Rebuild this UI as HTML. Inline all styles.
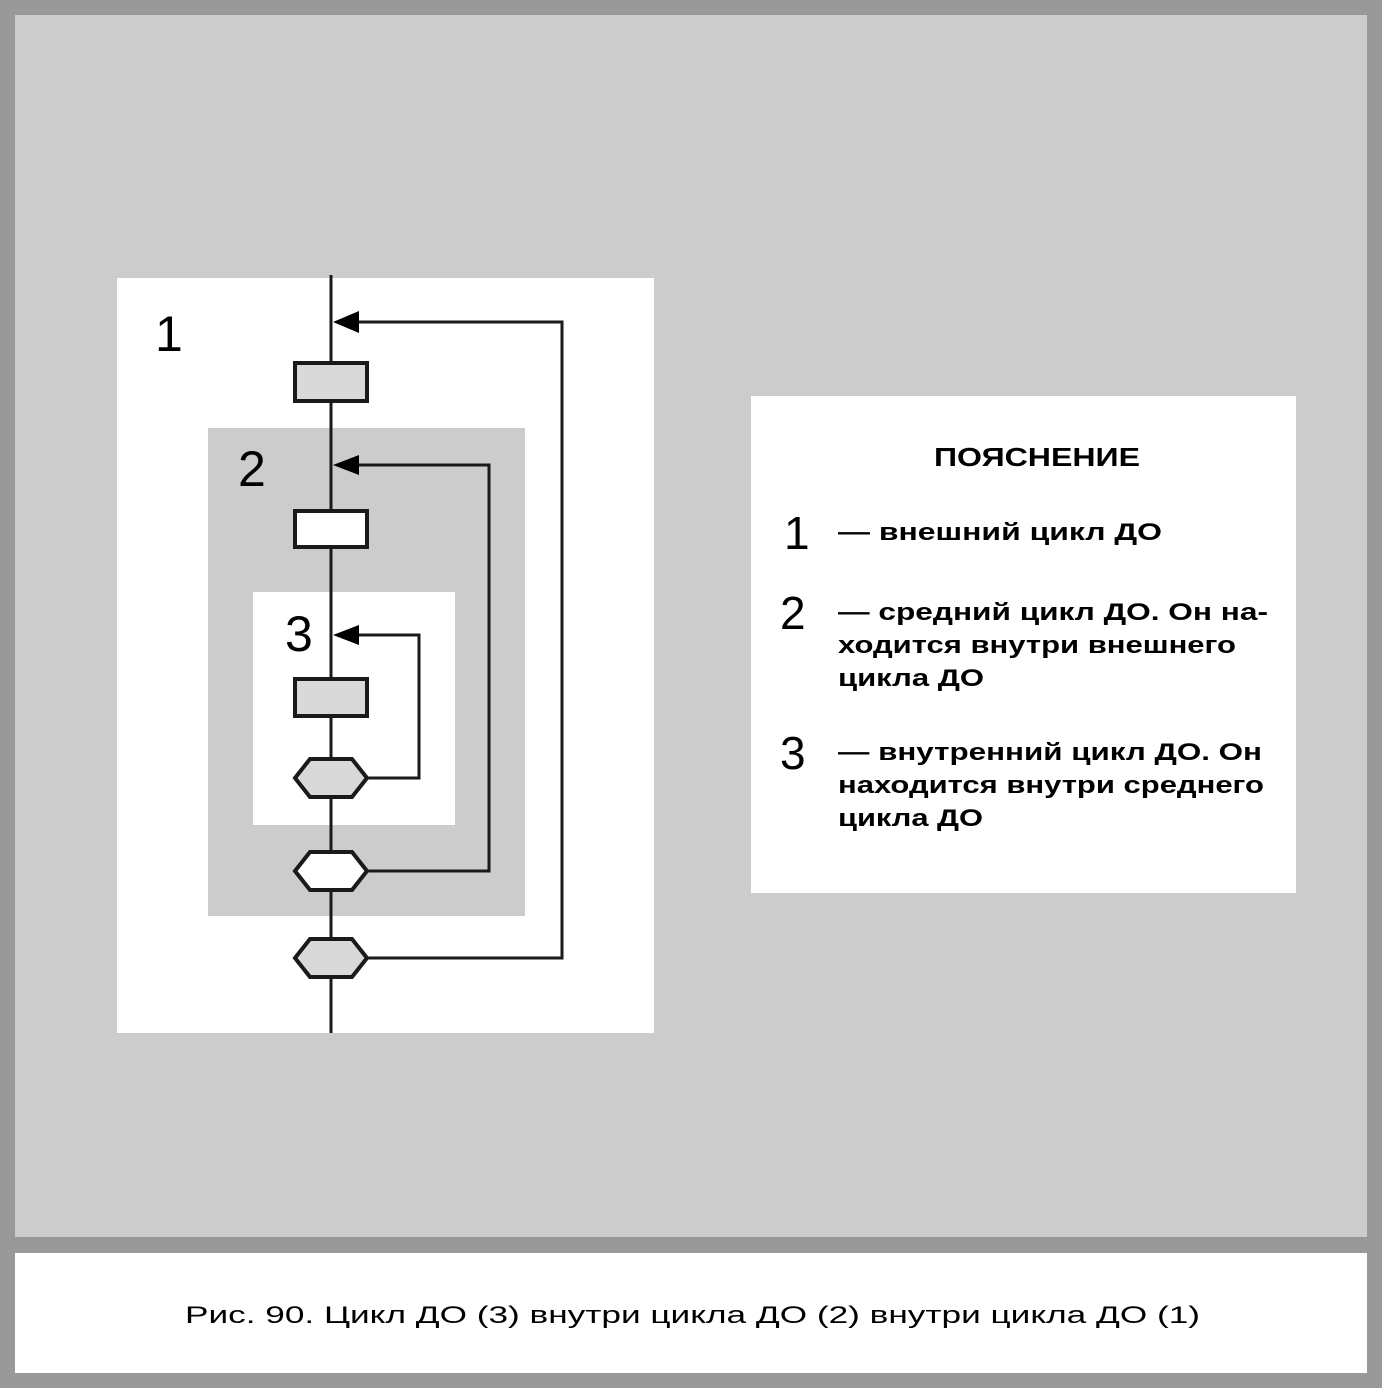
<!DOCTYPE html>
<html><head><meta charset="utf-8"><style>
html,body{margin:0;padding:0;background:#999;}
svg{display:block;}
text{font-family:"Liberation Sans",Arial,sans-serif;fill:#000;}
</style></head><body>
<svg width="1382" height="1388" viewBox="0 0 1382 1388" xmlns="http://www.w3.org/2000/svg">
<rect x="0" y="0" width="1382" height="1388" fill="#999"/>
<rect x="15" y="15" width="1352" height="1222" fill="#ccc"/>
<rect x="15" y="1253" width="1352" height="120" fill="#fff"/>
<text x="185" y="1323" font-size="24" textLength="1015" lengthAdjust="spacingAndGlyphs">Рис. 90. Цикл ДО (3) внутри цикла ДО (2) внутри цикла ДО (1)</text>

<rect x="117" y="278" width="537" height="755" fill="#fff"/>
<rect x="208" y="428" width="317" height="488" fill="#ccc"/>
<rect x="253" y="592" width="202" height="233" fill="#fff"/>

<line x1="331" y1="275" x2="331" y2="1033" stroke="#1a1a1a" stroke-width="3"/>
<g fill="none" stroke="#1a1a1a" stroke-width="3">
<polyline points="358,322 562,322 562,958 366,958"/>
<polyline points="358,465 489,465 489,871 366,871"/>
<polyline points="358,635 419,635 419,778 366,778"/>
</g>
<g fill="#000">
<polygon points="333,322 359,311 359,333"/>
<polygon points="333,465 359,455 359,475"/>
<polygon points="333,635 359,625 359,645"/>
</g>
<g stroke="#1a1a1a" stroke-width="4">
<rect x="295" y="363" width="72" height="38" fill="#d9d9d9"/>
<rect x="295" y="511" width="72" height="36" fill="#fff"/>
<rect x="295" y="679" width="72" height="37" fill="#d9d9d9"/>
<polygon points="295,778 310,759 352,759 367,778 352,797 310,797" fill="#d9d9d9"/>
<polygon points="295,871 310,852 352,852 367,871 352,890 310,890" fill="#fff"/>
<polygon points="295,958 310,939 352,939 367,958 352,977 310,977" fill="#d9d9d9"/>
</g>
<text x="155" y="351" font-size="50">1</text>
<text x="238" y="486" font-size="50">2</text>
<text x="285" y="651" font-size="50">3</text>

<rect x="751" y="396" width="545" height="497" fill="#fff"/>
<g font-weight="bold" font-size="24">
<text x="934" y="466" font-size="26" textLength="206" lengthAdjust="spacingAndGlyphs">ПОЯСНЕНИЕ</text>
<text x="838" y="540" textLength="324" lengthAdjust="spacingAndGlyphs">— внешний  цикл ДО</text>
<text x="838" y="620" textLength="430" lengthAdjust="spacingAndGlyphs">— средний цикл ДО. Он на-</text>
<text x="838" y="653" textLength="398" lengthAdjust="spacingAndGlyphs">ходится внутри внешнего</text>
<text x="838" y="686" textLength="146" lengthAdjust="spacingAndGlyphs">цикла ДО</text>
<text x="838" y="760" textLength="424" lengthAdjust="spacingAndGlyphs">— внутренний цикл ДО. Он</text>
<text x="838" y="793" textLength="426" lengthAdjust="spacingAndGlyphs">находится внутри среднего</text>
<text x="838" y="826" textLength="145" lengthAdjust="spacingAndGlyphs">цикла ДО</text>
</g>
<text x="784" y="549" font-size="46">1</text>
<text x="780" y="629" font-size="46">2</text>
<text x="780" y="769" font-size="46">3</text>
</svg>
</body></html>
